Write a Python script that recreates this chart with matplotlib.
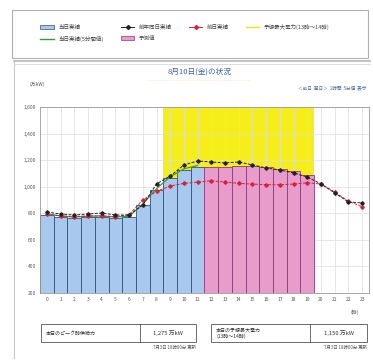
import matplotlib
matplotlib.use("Agg")
import matplotlib.pyplot as plt
from matplotlib.patches import Rectangle, Patch
from matplotlib.lines import Line2D
import numpy as np

plt.rcParams['font.family'] = ['Noto Sans CJK JP', 'DejaVu Sans']

hours = list(range(24))
hour_labels = [str(h) for h in hours]
actual_hours = list(range(0, 12))
actual = [787, 772, 765, 770, 772, 765, 770, 860, 975, 1065, 1125, 1150]
forecast_hours = list(range(12, 20))
forecast = [1145, 1152, 1158, 1155, 1148, 1135, 1118, 1090]
prev_year = [810, 795, 787, 795, 802, 787, 787, 863, 1021, 1081, 1164, 1194,
             1186, 1179, 1186, 1164, 1141, 1126, 1104, 1073, 1021, 953, 885, 878]
prev_day = [795, 780, 775, 780, 780, 775, 790, 900, 965, 1005, 1025, 1035,
            1045, 1035, 1025, 1020, 1015, 1015, 1020, 1030, 1020, 960, 890, 850]
green_5min = [795, 780, 772, 778, 780, 772, 778, 870, 985, 1075, 1135, 1160]
yticks = [200, 400, 600, 800, 1000, 1200, 1400, 1600]
peak_band = (8.5, 19.5)

W, H = 373, 360
fig = plt.figure(figsize=(W/100, H/100), dpi=100)
fig.patch.set_facecolor('white')

def fx(x): return x / W
def fy(y): return 1 - y / H

# outer frames
fig.add_artist(Rectangle((fx(12), fy(58)), fx(356), fy(10) - fy(58), transform=fig.transFigure,
                         fill=False, edgecolor='#b0b0b0', lw=0.8))
fig.add_artist(Line2D([fx(14), fx(14)], [fy(60), fy(358)], transform=fig.transFigure, color='#c8c8c8', lw=0.8))
fig.add_artist(Line2D([fx(14), fx(370)], [fy(61), fy(61)], transform=fig.transFigure, color='#b8b8b8', lw=1.2))
fig.add_artist(Line2D([fx(14), fx(370)], [fy(64), fy(64)], transform=fig.transFigure, color='#d8d8d8', lw=0.6))

ax = fig.add_axes([fx(40), fy(293), fx(369) - fx(40), fy(107) - fy(293)])
ax.axvspan(*peak_band, color='#f5ee1a', zorder=0, lw=0)
ax.bar(actual_hours, [v - 200 for v in actual], bottom=200, width=1.0, color='#a9c8ee',
       edgecolor='#34507e', lw=0.6, zorder=2)
ax.bar(forecast_hours, [v - 200 for v in forecast], bottom=200, width=1.0, color='#e89ccb',
       edgecolor='#8a3d78', lw=0.6, zorder=2)
ax.plot(actual_hours, green_5min, color='#3a9a3a', lw=0.9, zorder=3)
ax.plot(hours, prev_day, color='#d8203a', lw=0.7, ls=(0, (3, 1.5)), marker='D', ms=1.8, zorder=4)
ax.plot(hours, prev_year, color='#222222', lw=0.7, ls=(0, (3, 1.5)), marker='D', ms=1.8, zorder=5)

ax.set_xlim(-0.5, 23.5)
ax.set_ylim(200, 1600)
ax.set_yticks(yticks)
ax.set_yticklabels([f"{v:,}" for v in yticks], fontsize=3.5, color='#555555')
ax.set_xticks(hours)
ax.set_xticklabels(hour_labels, fontsize=3.5, color='#555555')
ax.tick_params(length=0, pad=3)
ax.grid(True, color='#dddddd', lw=0.5)
ax.set_axisbelow(True)
for s in ax.spines.values():
    s.set_color('#999999'); s.set_linewidth(0.6)

fig.text(fx(30), fy(84), '(万kW)', fontsize=3.5, color='#555555', va='center')
fig.text(fx(355), fy(312), '(時)', fontsize=3.5, color='#555555', va='center', ha='center')
fig.text(fx(200), fy(72), '8月10日(金)の状況', fontsize=5.5, color='#3a5fb0', ha='center', va='center')
fig.add_artist(Line2D([fx(150), fx(250)], [fy(80), fy(80)], transform=fig.transFigure,
                      color='#f0d0c0', lw=0.5, ls=':'))
fig.text(fx(366), fy(88), '＜前日  翌日＞  1時間  5分値  表示', fontsize=3.3, color='#4a6aa0', ha='right', va='center')

# legend
handles = [Patch(facecolor='#a9c8ee', edgecolor='#34507e', lw=0.5),
           Line2D([], [], color='#3a9a3a', lw=1.0),
           Line2D([], [], color='#222222', lw=0.7, marker='D', ms=2),
           Patch(facecolor='#e89ccb', edgecolor='#8a3d78', lw=0.5),
           Line2D([], [], color='#d8203a', lw=0.7, marker='D', ms=2),
           Line2D([], [], color='#f0e020', lw=1.0)]
labels = ['当日実績', '当日実績(5分間値)', '前年同日実績', '予測値', '前日実績', '予想最大電力(13時～14時)']
fig.legend(handles, labels, ncol=4, loc='center', bbox_to_anchor=(fx(185), fy(33)),
           fontsize=4, frameon=False, handlelength=2.5, columnspacing=3.0, labelspacing=1.2,
           labelcolor='#444444')

# bottom boxes
def box(x0, x1, xd, y0, y1, label, value, note):
    fig.add_artist(Rectangle((fx(x0), fy(y1)), fx(x1 - x0), fy(y0) - fy(y1), transform=fig.transFigure,
                             fill=False, edgecolor='#555555', lw=0.6))
    fig.add_artist(Line2D([fx(xd), fx(xd)], [fy(y0), fy(y1)], transform=fig.transFigure, color='#555555', lw=0.6))
    fig.text(fx(x0 + 5), fy((y0 + y1) / 2), label, fontsize=3.6, color='#333333', va='center', linespacing=1.2)
    fig.text(fx((xd + x1) / 2), fy((y0 + y1) / 2), value, fontsize=4.2, color='#333333', va='center', ha='center')
    fig.text(fx(x1), fy(y1 + 5), note, fontsize=3.2, color='#555555', va='center', ha='right')

box(41, 196, 140, 324, 342, '本日のピーク時供給力', '1,275 万kW', '7月3日 18時00分 更新')
box(211, 367, 310, 324, 342, '本日の予想最大電力\n(13時～14時)', '1,150 万kW', '7月3日 18時00分 更新')

fig.savefig('out.png', dpi=100, facecolor='white')
